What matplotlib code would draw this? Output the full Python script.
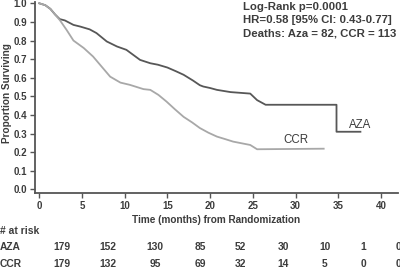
import matplotlib
matplotlib.use("Agg")
import matplotlib.pyplot as plt

# ---- data ----
aza_t = [0, 0.7, 1.3, 1.85, 2.4, 3.0, 4.0, 4.8, 5.9, 6.7, 7.9, 9.1, 10.2, 11.0, 11.8,
         13.0, 13.9, 15.0, 16.0, 16.9, 18.0, 18.8, 19.2, 20.0, 20.8, 22.4, 24.7, 25.5,
         26.5, 34.8, 34.8, 37.6]
aza_s = [1.0, 0.99, 0.97, 0.94, 0.915, 0.908, 0.884, 0.875, 0.86, 0.84, 0.795, 0.768,
         0.75, 0.723, 0.696, 0.678, 0.67, 0.655, 0.635, 0.616, 0.585, 0.56, 0.553, 0.545,
         0.535, 0.523, 0.515, 0.48, 0.455, 0.455, 0.31, 0.31]
ccr_t = [0, 0.7, 1.3, 1.85, 2.4, 3.2, 4.0, 5.2, 6.3, 7.3, 8.3, 9.5, 10.6, 12.2, 13.0,
         13.95, 14.9, 15.9, 16.9, 17.9, 18.8, 19.8, 20.8, 21.8, 22.7, 23.7, 24.7, 25.5, 33.3]
ccr_s = [1.0, 0.99, 0.97, 0.94, 0.91, 0.857, 0.80, 0.76, 0.714, 0.66, 0.606, 0.574,
         0.562, 0.539, 0.535, 0.508, 0.472, 0.43, 0.39, 0.36, 0.33, 0.305, 0.284, 0.27,
         0.257, 0.248, 0.239, 0.216, 0.219]

x_ticks = [0, 5, 10, 15, 20, 25, 30, 35, 40]
y_ticks = [0.0, 0.1, 0.2, 0.3, 0.4, 0.5, 0.6, 0.7, 0.8, 0.9, 1.0]
risk_groups = ["AZA", "CCR"]
aza_risk = [179, 152, 130, 85, 52, 30, 10, 1, 0]
ccr_risk = [179, 132, 95, 69, 32, 14, 5, 0, 0]
stats_lines = ["Log-Rank p=0.0001", "HR=0.58 [95% CI: 0.43-0.77]",
               "Deaths: Aza = 82, CCR = 113"]

# ---- layout ----
W, H = 400, 269
plt.rcParams['font.family'] = ['Liberation Sans', 'DejaVu Sans']
fig = plt.figure(figsize=(W / 100, H / 100), dpi=100)
ax = fig.add_axes([35 / W, 1 - 193 / H, 363 / W, 191 / H])

txt = "#3c3c3c"
ax.plot(aza_t, aza_s, color="#575757", lw=1.3)
ax.plot(ccr_t, ccr_s, color="#a8a8a8", lw=1.3)

ax.set_xlim(-0.5, 42.0)
ax.set_ylim(-0.019, 1.007)
ax.set_xticks(x_ticks)
ax.set_yticks(y_ticks)
ax.set_yticklabels([f"{v:.1f}" for v in y_ticks])
for s in ["top", "right"]:
    ax.spines[s].set_visible(False)
for s in ["left", "bottom"]:
    ax.spines[s].set_color("#555555")
    ax.spines[s].set_linewidth(1.3)
ax.tick_params(axis="both", colors="#555555", labelcolor=txt, length=3.5, width=1.0,
               labelsize=7.0, pad=2)
for lab in ax.get_xticklabels() + ax.get_yticklabels():
    lab.set_fontweight("bold")

ax.set_xlabel("Time (months) from Randomization", fontsize=7.2, fontweight="bold",
              color=txt, labelpad=3)
fig.text(7 / W, 1 - 93 / H, "Proportion Surviving", rotation=90, fontsize=7.2,
         fontweight="bold", color=txt, ha="center", va="center")

# stats text
for i, line in enumerate(stats_lines):
    fig.text(243 / W, 1 - (6.5 + 13.5 * i) / H, line, fontsize=8.2, fontweight="bold",
             color=txt, ha="left", va="center")

# curve labels
ax.text(37.6, 0.345, "AZA", fontsize=8.3, color=txt, ha="center", va="center")
ax.text(30.0, 0.267, "CCR", fontsize=8.3, color=txt, ha="center", va="center")

# risk table
risk_x = [62, 108, 155, 200, 240, 283, 325, 363, 398]
fig.text(0, 1 - 231 / H, "# at risk", fontsize=7.4, fontweight="bold", color=txt,
         ha="left", va="center")
for row_y, name, vals in [(247, risk_groups[0], aza_risk), (264, risk_groups[1], ccr_risk)]:
    fig.text(0, 1 - row_y / H, name, fontsize=7.4, fontweight="bold", color=txt,
             ha="left", va="center")
    for px, v in zip(risk_x, vals):
        fig.text(px / W, 1 - row_y / H, str(v), fontsize=7.4, fontweight="bold",
                 color=txt, ha="center", va="center")

fig.savefig("out.png", dpi=100)
